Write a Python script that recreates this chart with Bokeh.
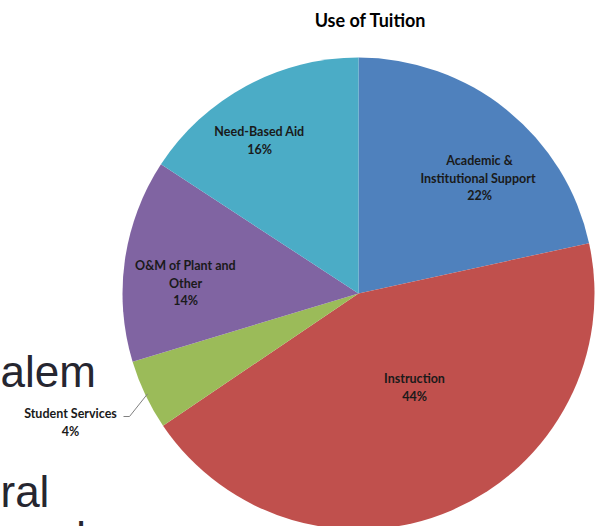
import math
from bokeh.plotting import figure
from bokeh.models import Range1d, ColumnDataSource
from bokeh.core.properties import value
from bokeh.embed import file_html
from bokeh.resources import INLINE

# ---- data ----
categories = ["Academic &\nInstitutional  Support", "Instruction", "Student Services",
              "O&M of Plant and\nOther", "Need-Based Aid"]
shares = [21.6, 44.0, 4.8, 13.9, 15.8]
pct_labels = ["22%", "44%", "4%", "14%", "16%"]
colors = ["#4F81BD", "#C0504D", "#9BBB59", "#8064A2", "#4BACC6"]
title_text = "Use of Tuition"
slide_lines = ["alem", "ral", "vards"]

# ---- layout ----
W, H = 598, 526
CX, CY, R = 358, H - 293, 236
# label anchor (pixel) positions, layout only
label_pos = [(479, 160), (414, 378), (70, 413), (185, 265), (259, 131)]
line_h = 17.5
slide_pos = [(0, 371), (0, 491), (0, 537)]

p = figure(width=W, height=H, output_backend="svg", toolbar_location=None,
           x_range=Range1d(0, W), y_range=Range1d(0, H),
           x_axis_location=None, y_axis_location=None, min_border=0)
p.grid.visible = False
p.outline_line_color = None
p.background_fill_color = "white"
p.border_fill_color = "white"

# background slide text
p.text(x=[s[0] for s in slide_pos], y=[H - s[1] for s in slide_pos], text=slide_lines,
       text_font=value("Liberation Sans"), text_font_size="44px",
       text_color="#262630", text_align="left", text_baseline="alphabetic")

# wedges
total = sum(shares)
starts, ends = [], []
cum = 0.0
for v in shares:
    starts.append(math.pi / 2 - cum / total * 2 * math.pi)
    cum += v
    ends.append(math.pi / 2 - cum / total * 2 * math.pi)
src = ColumnDataSource(dict(x=[CX] * len(shares), y=[CY] * len(shares),
                            start=starts, end=ends, color=colors))
p.wedge(x="x", y="y", radius=R, start_angle="start", end_angle="end",
        direction="clock", fill_color="color", line_color=None, source=src)

# title
p.text(x=[370], y=[H - 19], text=[title_text], text_font=value("Lato"),
       text_font_style="bold", text_font_size="18px", text_color="#000000",
       text_align="center", text_baseline="middle")

# data labels
lx, ly, lt = [], [], []
for (px, py), cat, pct in zip(label_pos, categories, pct_labels):
    lines = cat.split("\n") + [pct]
    for i, t in enumerate(lines):
        lx.append(px)
        ly.append(H - (py + i * line_h))
        lt.append(t)
p.text(x=lx, y=ly, text=lt, text_font=value("Lato"), text_font_style="bold",
       text_font_size="12.5px", text_color="#1a1a1a", text_align="center",
       text_baseline="middle")

# leader line for Student Services
mid = (starts[2] + ends[2]) / 2
ex, ey = CX + R * 0.99 * math.cos(mid), CY + R * 0.99 * math.sin(mid)
p.line(x=[123, 129, ex], y=[H - 416, H - 416, ey], line_color="#808080", line_width=1)

open("out.html", "w").write(file_html(p, INLINE))
